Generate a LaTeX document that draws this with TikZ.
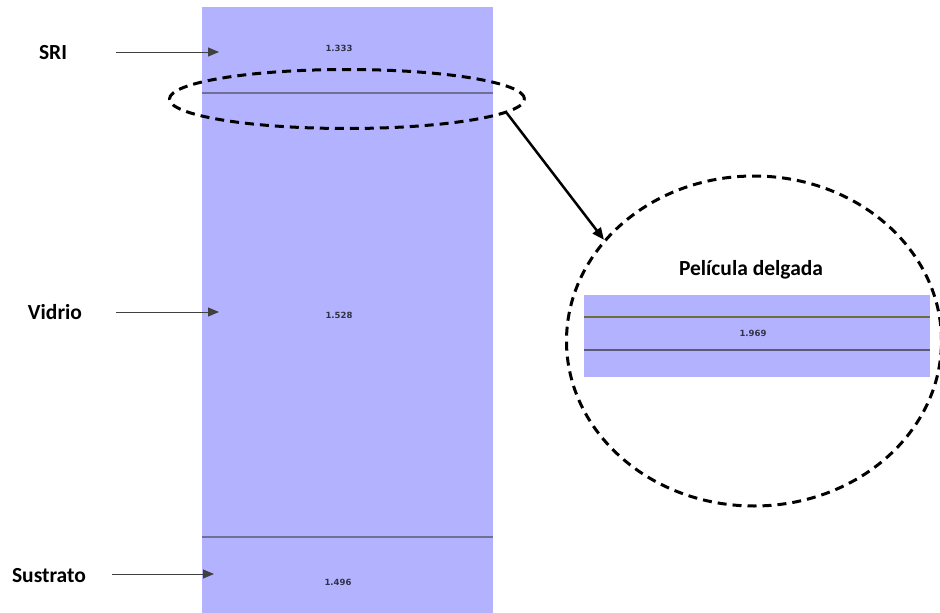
\documentclass[tikz,border=0pt]{standalone}
\usepackage{fontspec}
\setmainfont{Carlito}
\newfontfamily\numfont{DejaVu Sans}
\usetikzlibrary{arrows.meta,shapes.geometric}
\definecolor{glass}{RGB}{178,178,255}
\definecolor{seam}{RGB}{112,112,150}
\definecolor{olive}{RGB}{110,110,60}
\definecolor{numgray}{RGB}{50,50,70}

\begin{document}
\begin{tikzpicture}[x=1pt,y=-1pt]

\tikzstyle{layername}=[font=\fontsize{21.5}{24}\selectfont\bfseries,inner sep=0pt]
\tikzstyle{refindex}=[font=\numfont\fontsize{8.5}{9}\selectfont\bfseries,text=numgray,inner sep=0pt]
\tikzstyle{pointer}=[draw=black!75,line width=0.9pt,-{Triangle[length=11pt,width=9pt]}]
\tikzstyle{loop}=[draw=black,line width=3pt,dash pattern=on 9pt off 6pt,ellipse,inner sep=0pt]

\useasboundingbox (0,0) rectangle (940,613);

\fill[glass] (202,7) rectangle (493,613);
\draw[seam,line width=1.3pt] (202,93) -- (493,93);
\draw[seam,line width=1.3pt] (202,537) -- (493,537);

\node[refindex] (n1) at (339,48) {1.333};
\node[refindex] (n2) at (339,315) {1.528};
\node[refindex] (n3) at (338,582) {1.496};

\node[layername] (sri) at (53,53) {SRI};
\node[layername] (vidrio) at (55,312) {Vidrio};
\node[layername] (sustrato) at (49,576) {Sustrato};
\coordinate (sritail) at (116,52);
\coordinate (srihead) at (219,52);
\coordinate (vidriotail) at (116,312);
\coordinate (vidriohead) at (219,312);
\coordinate (sustratotail) at (112,574);
\coordinate (sustratohead) at (214,574);
\draw[pointer] (sritail) -- (srihead);
\draw[pointer] (vidriotail) -- (vidriohead);
\draw[pointer] (sustratotail) -- (sustratohead);

\fill[glass] (584,295) rectangle (930,377);
\draw[olive,line width=2pt] (584,317) -- (930,317);
\draw[seam!80!black,line width=1.5pt] (584,350) -- (930,350);
\node[refindex] (n4) at (753,333) {1.969};
\node[layername] (film) at (751,270) {Película delgada};

\node[loop,minimum width=355pt,minimum height=59pt] (lens) at (347,99) {};
\node[loop,minimum width=375pt,minimum height=330pt] (zoom) at (754,341) {};
\draw[line width=2.5pt,-{Triangle[length=12pt,width=10pt]}] (lens.-5) -- (zoom.146);

\end{tikzpicture}
\end{document}
